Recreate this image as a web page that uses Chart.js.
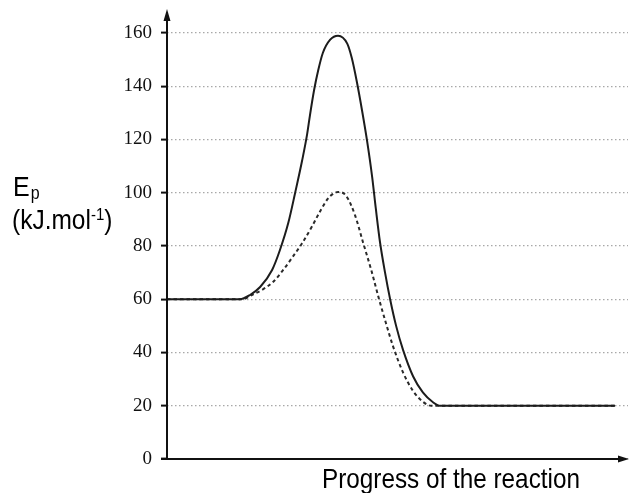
<!DOCTYPE html>
<html>
<head>
<meta charset="utf-8">
<style>
  html, body { margin: 0; padding: 0; background: #fff; }
  canvas { display: block; }
</style>
<script src="https://cdn.jsdelivr.net/npm/chart.js@4.4.1/dist/chart.umd.min.js"></script>
</head>
<body>
<canvas id="c" width="629" height="493"></canvas>
<script>
// Uncatalysed reaction (solid line)
const progressSolid = [0, 15.8, 18.0, 20.2, 22.8, 24.5, 26.3, 27.8, 29.3, 30.4, 31.0, 31.9, 32.8, 33.8, 35.4, 37.1, 39.1, 40.1, 41.2, 42.3, 43.4, 44.5, 45.3, 46.2, 47.3, 48.4, 49.7, 51.2, 53.4, 55.5, 57.7, 59.2, 97.2];
const energySolid   = [60, 60, 61.6, 64.6, 71, 78.5, 88.6, 100, 112, 122, 129, 138.5, 146, 152.5, 157.5, 159, 156, 150.5, 141.5, 131, 119.5, 106, 94, 81.5, 70, 60, 50, 41, 31, 25, 21.3, 20, 20];
// Catalysed reaction (dashed line)
const progressDashed = [0, 16.5, 18.4, 20.6, 23.0, 25.2, 27.3, 29.3, 31.5, 33.2, 34.9, 36.0, 37.1, 38.8, 40.8, 42.5, 44.3, 46.0, 47.5, 49.0, 51.2, 53.4, 55.5, 57.3, 97.2];
const energyDashed   = [60, 60, 61.6, 63.5, 66.5, 71, 76, 81, 87.5, 93, 97.8, 99.6, 100.3, 99, 91.5, 81.5, 71, 60, 51, 42.5, 32.5, 25.5, 21.5, 20, 20];
// Y-axis ticks
const yTicks = [0, 20, 40, 60, 80, 100, 120, 140, 160];

const xTitle = 'Progress of the reaction';
const yTitleMain = 'E';
const yTitleSub = 'p';
const yTitleLine2 = '(kJ.mol';
const yTitleSup = '-1';
const yTitleEnd = ')';

const toXY = (xs, ys) => xs.map((x, i) => ({ x: x, y: ys[i] }));

const decorPlugin = {
  id: 'decor',
  afterDraw(chart) {
    const ctx = chart.ctx;
    const a = chart.chartArea;
    ctx.save();
    // axes
    ctx.strokeStyle = '#111';
    ctx.fillStyle = '#111';
    ctx.lineWidth = 2;
    ctx.beginPath();
    ctx.moveTo(a.left, a.bottom);
    ctx.lineTo(a.left, a.top - 20);
    ctx.moveTo(a.left - 6, a.bottom);
    ctx.lineTo(a.right - 4, a.bottom);
    ctx.stroke();
    // arrowheads
    ctx.beginPath();
    ctx.moveTo(a.left, a.top - 24);
    ctx.lineTo(a.left - 3.5, a.top - 12);
    ctx.lineTo(a.left + 3.5, a.top - 12);
    ctx.closePath();
    ctx.fill();
    ctx.beginPath();
    ctx.moveTo(a.right + 1, a.bottom);
    ctx.lineTo(a.right - 10, a.bottom - 3.5);
    ctx.lineTo(a.right - 10, a.bottom + 3.5);
    ctx.closePath();
    ctx.fill();

    // titles (slightly tall type as in the reference)
    ctx.fillStyle = '#000';
    ctx.textBaseline = 'alphabetic';
    ctx.textAlign = 'left';
    const sy = 1.13;
    const drawText = (t, x, y, size) => {
      ctx.save();
      ctx.font = size + 'px "Liberation Sans", Arial, sans-serif';
      ctx.translate(x, y);
      ctx.scale(1, sy);
      ctx.fillText(t, 0, 0);
      const w = ctx.measureText(t).width;
      ctx.restore();
      return w;
    };
    // E_p
    let w = drawText(yTitleMain, 13, 196, 25);
    drawText(yTitleSub, 13 + w + 1, 199, 16);
    // (kJ.mol-1)
    w = drawText(yTitleLine2, 12, 229, 24.5);
    let w2 = drawText(yTitleSup, 12 + w, 220, 15);
    drawText(yTitleEnd, 12 + w + w2, 229, 24.5);
    // x title
    drawText(xTitle, 322, 488, 24.3);
    ctx.restore();
  }
};

new Chart(document.getElementById('c'), {
  type: 'line',
  data: {
    datasets: [
      {
        label: 'Without catalyst',
        data: toXY(progressSolid, energySolid),
        borderColor: '#1c1c1c',
        borderWidth: 2,
        pointRadius: 0,
        fill: false,
        cubicInterpolationMode: 'monotone'
      },
      {
        label: 'With catalyst',
        data: toXY(progressDashed, energyDashed),
        borderColor: '#2a2a2a',
        borderWidth: 2,
        borderDash: [3.5, 3],
        pointRadius: 0,
        fill: false,
        cubicInterpolationMode: 'monotone'
      }
    ]
  },
  options: {
    responsive: false,
    devicePixelRatio: 1,
    animation: false,
    layout: { padding: { top: 33, right: 1, bottom: 34, left: 0 } },
    plugins: {
      legend: { display: false },
      tooltip: { enabled: false },
      title: { display: false }
    },
    scales: {
      x: {
        type: 'linear',
        min: 0,
        max: 100,
        display: false
      },
      y: {
        type: 'linear',
        min: 0,
        max: 160,
        afterFit(scale) { scale.width = 167; },
        afterBuildTicks(scale) { scale.ticks = yTicks.map(v => ({ value: v })); },
        border: { display: false, dash: [1.5, 2.5] },
        grid: {
          color: '#a8a8a8',
          lineWidth: 1.2,
          drawTicks: true,
          tickLength: 6,
          tickColor: '#111',
          tickWidth: 2,
          tickBorderDash: []
        },
        ticks: {
          padding: 9,
          color: '#111',
          font: { family: '"Liberation Serif", "Times New Roman", serif', size: 19 },
          callback: (v) => String(v)
        }
      }
    }
  },
  plugins: [decorPlugin]
});
</script>
</body>
</html>
